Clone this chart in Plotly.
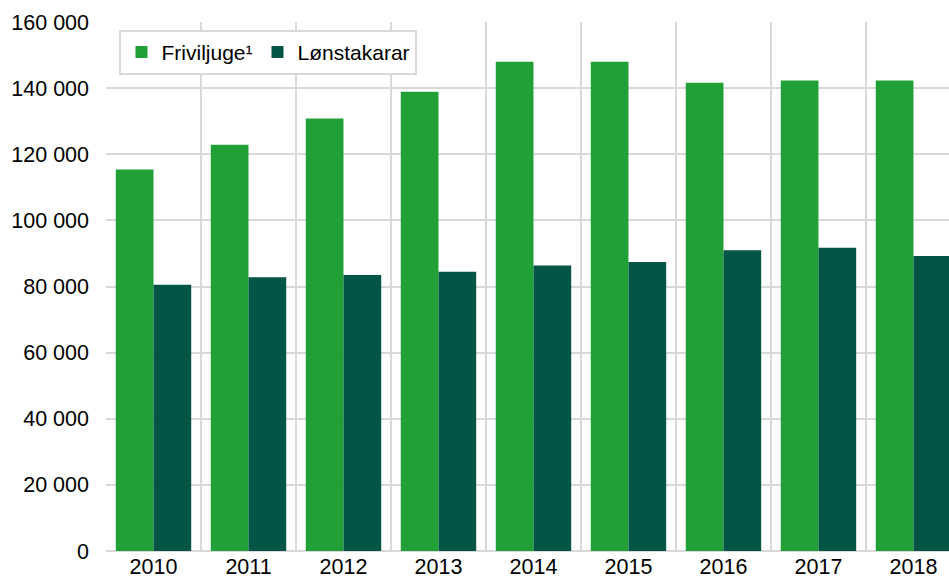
import plotly.graph_objects as go

years = ["2010", "2011", "2012", "2013", "2014", "2015", "2016", "2017", "2018"]
friviljuge = [115400, 122900, 130800, 138900, 148000, 148000, 141600, 142300, 142300]
lonstakarar = [80500, 82800, 83500, 84450, 86350, 87400, 91000, 91700, 89200]
series_names = ["Friviljuge¹", "Lønstakarar"]
y_ticks = [0, 20000, 40000, 60000, 80000, 100000, 120000, 140000, 160000]

GREEN = "#21A038"
DARK = "#035645"
GRID = "#D9D9D9"
FONT = "Liberation Sans, Arial, sans-serif"

fig = go.Figure()
fig.add_trace(go.Bar(x=years, y=friviljuge, name=series_names[0],
                     marker=dict(color=GREEN, line=dict(width=0))))
fig.add_trace(go.Bar(x=years, y=lonstakarar, name=series_names[1],
                     marker=dict(color=DARK, line=dict(width=0))))

fig.update_layout(
    width=949, height=579,
    margin=dict(l=106, r=0, t=22, b=28),
    paper_bgcolor="white", plot_bgcolor="white",
    barmode="group", bargap=0.206, bargroupgap=0,
    separators=", ",
    font=dict(family=FONT, size=21.5, color="#000000"),
    showlegend=True,
    legend=dict(orientation="h", x=0.016, y=0.985, xanchor="left", yanchor="top",
                bordercolor=GRID, borderwidth=2, bgcolor="white",
                font=dict(family=FONT, size=21, color="#000000"),
                itemwidth=30, traceorder="normal"),
)
fig.update_xaxes(
    type="category", range=[-0.5, 8.374], automargin=False,
    tickson="boundaries", showgrid=True, gridcolor=GRID, gridwidth=2,
    ticks="", showline=False, tickfont=dict(family=FONT, size=21.5),
    ticklabelstandoff=0,
    fixedrange=True,
)
fig.update_yaxes(
    range=[0, 160000], tickvals=y_ticks, tickformat=",d", automargin=False,
    showgrid=True, gridcolor=GRID, gridwidth=2,
    zeroline=True, zerolinecolor=GRID, zerolinewidth=2,
    ticks="", ticklabelstandoff=16, tickfont=dict(family=FONT, size=21.5),
    fixedrange=True,
)

fig.write_html(
    "out.html",
    config={"displayModeBar": False, "staticPlot": True},
    post_script="document.body.style.margin='0';document.body.style.overflow='hidden';",
)
